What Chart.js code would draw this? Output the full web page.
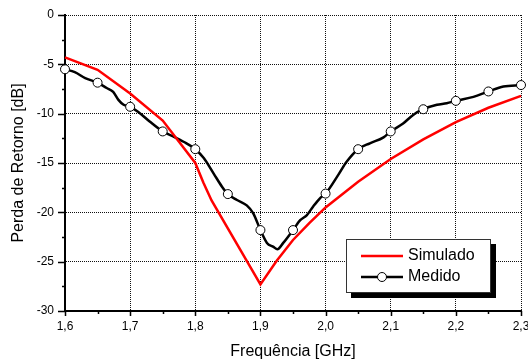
<!DOCTYPE html>
<html>
<head>
<meta charset="utf-8">
<script src="https://cdn.jsdelivr.net/npm/chart.js@4.4.1/dist/chart.umd.min.js"></script>
<style>
  html, body { margin: 0; padding: 0; background: #fff; }
  #wrap { width: 528px; height: 361px; position: relative; }
</style>
</head>
<body>
<div id="wrap"><canvas id="chart" width="528" height="361"></canvas></div>
<script>
// --- data ---
const simFreq = [1.60, 1.65, 1.70, 1.75, 1.80, 1.8125, 1.825, 1.90, 1.925, 1.95, 1.975, 2.00, 2.05, 2.10, 2.15, 2.20, 2.25, 2.30];
const simLoss = [-4.3, -5.55, -7.95, -10.7, -15.0, -17.0, -18.8, -27.3, -24.9, -22.8, -21.1, -19.5, -16.9, -14.6, -12.6, -10.85, -9.4, -8.2];

const medFreq = [1.600, 1.615, 1.631, 1.650, 1.664, 1.674, 1.682, 1.690, 1.700, 1.712, 1.730, 1.750, 1.766, 1.782, 1.800,
  1.813, 1.828, 1.841, 1.850, 1.864, 1.879, 1.889, 1.900, 1.910, 1.920, 1.926, 1.935, 1.950, 1.961, 1.971, 1.981, 1.991,
  2.000, 2.020, 2.032, 2.050, 2.068, 2.089, 2.100, 2.119, 2.135, 2.150, 2.171, 2.186, 2.200, 2.227, 2.250, 2.273, 2.300];
const medLoss = [-5.5, -5.8, -6.4, -6.86, -7.4, -7.8, -8.6, -9.1, -9.3, -9.8, -10.8, -11.8, -12.3, -12.85, -13.6,
  -14.5, -16.05, -17.4, -18.15, -18.75, -19.3, -20.1, -21.8, -23.1, -23.5, -23.75, -23.1, -21.8, -20.8, -20.3, -19.4, -18.6,
  -18.1, -16.15, -14.9, -13.6, -13.0, -12.4, -11.8, -11.0, -10.1, -9.55, -9.1, -8.95, -8.7, -8.3, -7.75, -7.25, -7.1];
// frequencies where the measured curve carries a circle marker
const markerFreq = [1.60, 1.65, 1.70, 1.75, 1.80, 1.85, 1.90, 1.95, 2.00, 2.05, 2.10, 2.15, 2.20, 2.25, 2.30];

const seriesNames = ['Simulado', 'Medido'];
const xTitle = 'Frequência [GHz]';
const yTitle = 'Perda de Retorno [dB]';

const FONT = "'Liberation Sans', Arial, sans-serif";

const toPoints = (xs, ys) => xs.map((x, i) => ({ x: x, y: ys[i] }));
const isMarker = x => markerFreq.some(m => Math.abs(m - x) < 1e-6);

// outward tick marks, major + minor
const tickMarks = {
  id: 'tickMarks',
  afterDraw(chart) {
    const ctx = chart.ctx;
    const xs = chart.scales.x, ys = chart.scales.y;
    ctx.save();
    ctx.strokeStyle = '#000';
    ctx.lineWidth = 1.5;
    ctx.beginPath();
    for (let k = 0; k <= 12; k++) {
      const v = ys.max - k * 2.5;
      const py = Math.round(ys.getPixelForValue(v)) + 0.5;
      const len = (k % 2 === 0) ? 7 : 3;
      ctx.moveTo(xs.left, py);
      ctx.lineTo(xs.left - len, py);
    }
    for (let k = 0; k <= 14; k++) {
      const v = xs.min + k * 0.05;
      const px = Math.round(xs.getPixelForValue(v)) + 0.5;
      const len = (k % 2 === 0) ? 5 : 3;
      ctx.moveTo(px, ys.bottom);
      ctx.lineTo(px, ys.bottom + len);
    }
    ctx.stroke();
    ctx.restore();
  }
};

// legend box with drop shadow inside the plot
const boxLegend = {
  id: 'boxLegend',
  afterDraw(chart) {
    const ctx = chart.ctx;
    const a = chart.chartArea;
    const w = 145, h = 54;
    const x0 = a.right - 30 - w, y0 = a.bottom - 18 - h;
    ctx.save();
    ctx.fillStyle = '#000';
    ctx.fillRect(x0 + 5, y0 + 5, w, h);
    ctx.fillStyle = '#fff';
    ctx.fillRect(x0, y0, w, h);
    ctx.strokeStyle = '#333';
    ctx.lineWidth = 1;
    ctx.strokeRect(x0 + 0.5, y0 + 0.5, w - 1, h - 1);
    ctx.font = '16px ' + FONT;
    ctx.textBaseline = 'middle';
    ctx.fillStyle = '#000';
    chart.data.datasets.forEach((ds, i) => {
      const cy = y0 + 17 + i * 21;
      ctx.strokeStyle = ds.borderColor;
      ctx.lineWidth = 2.5;
      ctx.beginPath();
      ctx.moveTo(x0 + 15, cy);
      ctx.lineTo(x0 + 57, cy);
      ctx.stroke();
      if (i === 1) {
        ctx.beginPath();
        ctx.arc(x0 + 36, cy, 4.5, 0, Math.PI * 2);
        ctx.fillStyle = '#fff';
        ctx.fill();
        ctx.lineWidth = 1;
        ctx.strokeStyle = '#000';
        ctx.stroke();
      }
      ctx.fillStyle = '#000';
      ctx.fillText(ds.label, x0 + 62, cy);
    });
    ctx.restore();
  }
};

new Chart(document.getElementById('chart'), {
  type: 'scatter',
  data: {
    datasets: [
      {
        label: seriesNames[0],
        data: toPoints(simFreq, simLoss),
        showLine: true,
        borderColor: '#ff0000',
        borderWidth: 2.5,
        pointRadius: 0,
        tension: 0,
        clip: false
      },
      {
        label: seriesNames[1],
        data: toPoints(medFreq, medLoss),
        showLine: true,
        borderColor: '#000',
        borderWidth: 2.5,
        cubicInterpolationMode: 'monotone',
        pointRadius: ctx => isMarker(ctx.raw.x) ? 4.5 : 0,
        pointBackgroundColor: '#fff',
        pointBorderColor: '#000',
        pointBorderWidth: 1,
        clip: false
      }
    ]
  },
  options: {
    responsive: false,
    animation: false,
    events: [],
    layout: { padding: { top: 15, right: 7, left: 0, bottom: 0 } },
    plugins: { legend: { display: false }, tooltip: { enabled: false } },
    scales: {
      x: {
        type: 'linear',
        min: 1.6,
        max: 2.3,
        afterFit: s => { s.height = 50; s.paddingLeft = 0; s.paddingRight = 0; },
        ticks: {
          stepSize: 0.1,
          padding: 8,
          color: '#000',
          font: { family: FONT, size: 12 },
          maxRotation: 0,
          callback: v => v.toFixed(1).replace('.', ',')
        },
        grid: { color: '#111', lineWidth: 1, drawTicks: false },
        border: { display: true, color: '#000', width: 2, dash: [1, 1] },
        title: { display: true, text: xTitle, color: '#000', font: { family: FONT, size: 16 }, padding: 0 }
      },
      y: {
        min: -30,
        max: 0,
        afterFit: s => { s.width = 65; s.paddingTop = 0; s.paddingBottom = 0; },
        ticks: {
          stepSize: 5,
          padding: 11,
          color: '#000',
          font: { family: FONT, size: 12 },
          callback: v => String(v)
        },
        grid: { color: '#111', lineWidth: 1, drawTicks: false },
        border: { display: true, color: '#000', width: 2, dash: [1, 1] },
        title: { display: true, text: yTitle, color: '#000', font: { family: FONT, size: 16 }, padding: { top: 9, bottom: 0 } }
      }
    }
  },
  plugins: [tickMarks, boxLegend]
});
</script>
</body>
</html>
